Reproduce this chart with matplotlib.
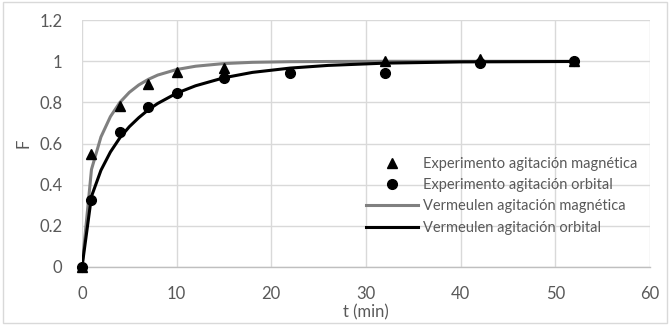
import matplotlib
matplotlib.use("Agg")
import matplotlib.pyplot as plt
from matplotlib.patches import Rectangle

plt.rcParams['font.family'] = ['Lato', 'DejaVu Sans']

# experimental points
t_mag = [0, 1, 4, 7, 10, 15, 32, 42, 52]
F_mag = [0, 0.55, 0.785, 0.89, 0.95, 0.965, 1.0, 1.01, 1.0]
t_orb = [0, 1, 4, 7, 10, 15, 22, 32, 42, 52]
F_orb = [0, 0.325, 0.655, 0.78, 0.845, 0.92, 0.945, 0.945, 0.99, 1.0]

# Vermeulen model curves (tabulated)
t_model = [0, 1, 2, 3, 4, 5, 6, 7, 8, 10, 12, 15, 18, 22, 26, 32, 40, 52]
F_model_mag = [0, 0.474, 0.632, 0.731, 0.800, 0.849, 0.885,
               0.912, 0.933, 0.960, 0.976, 0.989, 0.995, 0.998, 0.999, 1.0, 1.0, 1.0]
F_model_orb = [0, 0.343, 0.470, 0.559, 0.628, 0.682, 0.726,
               0.764, 0.795, 0.845, 0.881, 0.920, 0.946, 0.967, 0.980, 0.991, 0.997, 0.999]

fig = plt.figure(figsize=(6.7, 3.25), dpi=100)
ax = fig.add_axes([0.1224, 0.1785, 0.8476, 0.7595])

ax.plot(t_mag, F_mag, '^', color='black', markersize=7, zorder=4, clip_on=False,
        label='Experimento agitación magnética')
ax.plot(t_orb, F_orb, 'o', color='black', markersize=7, zorder=4, clip_on=False,
        label='Experimento agitación orbital')
ax.plot(t_model, F_model_mag, '-', color='#808080', lw=2.2, zorder=3,
        label='Vermeulen agitación magnética')
ax.plot(t_model, F_model_orb, '-', color='black', lw=2.2, zorder=3,
        label='Vermeulen agitación orbital')

ax.set_xlim(0, 60)
ax.set_ylim(0, 1.2)
ax.set_xticks(range(0, 61, 10))
ax.set_yticks([0, 0.2, 0.4, 0.6, 0.8, 1, 1.2])
ax.set_yticklabels(['0', '0.2', '0.4', '0.6', '0.8', '1', '1.2'])
ax.grid(True, color='#d9d9d9', lw=1)
ax.set_axisbelow(True)
for s in ['top', 'right', 'left']:
    ax.spines[s].set_visible(False)
ax.spines['bottom'].set_color('#bfbfbf')
ax.spines['bottom'].set_linewidth(1)
ax.tick_params(length=0, labelsize=12, labelcolor='#595959')
ax.tick_params(axis='x', pad=14)
ax.tick_params(axis='y', pad=14)

ax.set_xlabel('t (min)', fontsize=12, color='#595959', labelpad=1)
ax.set_ylabel('F', fontsize=12, color='#595959', labelpad=6)

leg = ax.legend(loc='upper left', bbox_to_anchor=(0.489, 0.47), frameon=False,
                fontsize=10.5, labelcolor='#595959', handlelength=3.6,
                handletextpad=0.35, labelspacing=0.5, borderaxespad=0)

# chart border
fig.patches.append(Rectangle((0.004, 0.006), 0.992, 0.988, transform=fig.transFigure,
                             fill=False, edgecolor='#d9d9d9', lw=1))

fig.savefig('out.png', dpi=100)
